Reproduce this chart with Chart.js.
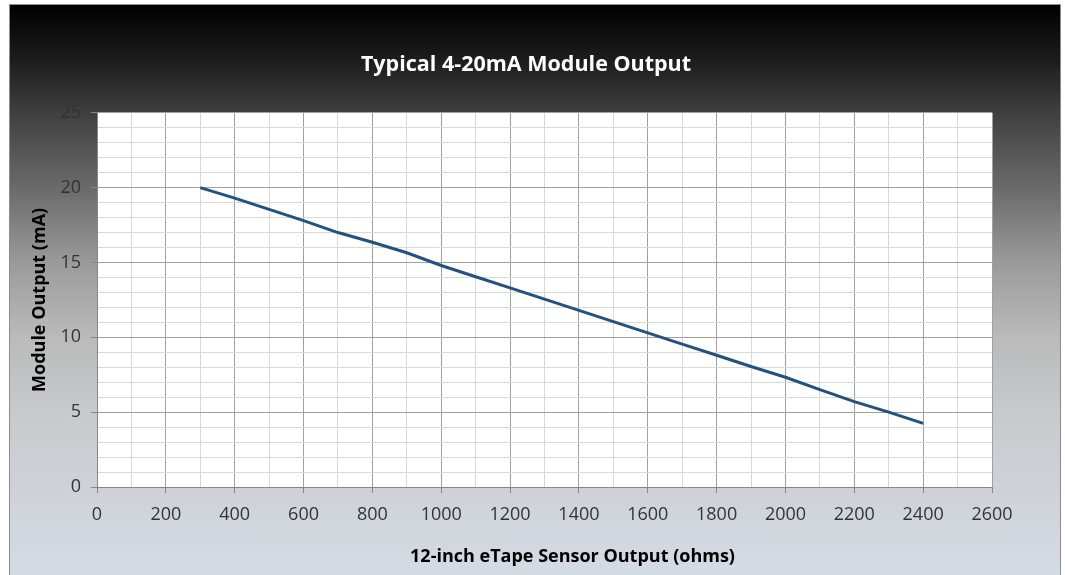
<!DOCTYPE html>
<html lang="en">

<head>
    <meta charset="UTF-8">
    <title>Typical 4-20mA Module Output</title>
    <style>
        body {
            margin: 0;
            background: #ffffff;
        }

        /* chart frame with the dark-to-light gradient */
        #frame {
            position: absolute;
            left: 9px;
            top: 4px;
            width: 1050px;
            height: 571px;
            border: 1px solid #8c8c8c;
            border-bottom: none;
            background: linear-gradient(to bottom,
                    #000000 0%,
                    #1e1e1e 10%,
                    #404040 19%,
                    #6a6a6a 32%,
                    #9a9a9a 45%,
                    #bababa 58%,
                    #c8cacd 72%,
                    #d5dbe4 100%);
        }
    </style>
</head>

<body>

    <div id="frame">
        <canvas id="myChart" width="1050" height="571"></canvas>
    </div>

    <script src="https://cdn.jsdelivr.net/npm/chart.js"></script>

    <script>
        // Sensor resistance (ohms) and module output (mA)
        const sensorOhms = [300, 400, 500, 600, 700, 800, 900, 1000, 1100, 1200, 1300,
            1400, 1500, 1600, 1700, 1800, 1900, 2000, 2100, 2200, 2300, 2400];
        const moduleMa = [20.0, 19.3, 18.55, 17.8, 17.0, 16.35, 15.65, 14.8, 14.05, 13.3, 12.55,
            11.8, 11.05, 10.3, 9.55, 8.8, 8.05, 7.33, 6.5, 5.7, 5.0, 4.25];

        // Axis ranges and tick steps
        const xRange = [0, 2600];
        const xMajor = 200;
        const xMinor = 100;
        const yRange = [0, 25];
        const yMajor = 5;
        const yMinor = 1;

        const chartTitle = 'Typical 4-20mA Module Output';
        const xTitle = '12-inch eTape Sensor Output (ohms)';
        const yTitle = 'Module Output (mA)';

        const FONT = "'Open Sans', 'DejaVu Sans', sans-serif";

        // white plot area behind the grid
        const plotBackground = {
            id: 'plotBackground',
            beforeDraw(chart) {
                const { ctx, chartArea } = chart;
                ctx.save();
                ctx.fillStyle = '#ffffff';
                ctx.fillRect(chartArea.left, chartArea.top,
                    chartArea.right - chartArea.left, chartArea.bottom - chartArea.top);
                ctx.restore();
            }
        };

        // x axis title sits a little right of the plot centre in the original
        const xAxisTitle = {
            id: 'xAxisTitle',
            afterDraw(chart) {
                const { ctx, chartArea } = chart;
                const xScale = chart.scales.x;
                ctx.save();
                ctx.fillStyle = '#000000';
                ctx.font = "bold 18px " + FONT;
                ctx.textAlign = 'center';
                ctx.textBaseline = 'middle';
                ctx.fillText(xTitle, (chartArea.left + chartArea.right) / 2 + 28, xScale.bottom - 19);
                ctx.restore();
            }
        };

        function isMajor(value, step) {
            return Math.abs(value / step - Math.round(value / step)) < 1e-6;
        }

        const ctx = document.getElementById('myChart').getContext('2d');
        const myChart = new Chart(ctx, {
            type: 'line',
            data: {
                datasets: [{
                    label: 'Module Output',
                    data: sensorOhms.map((x, i) => ({ x: x, y: moduleMa[i] })),
                    borderColor: '#23527f',
                    borderWidth: 3,
                    pointRadius: 0,
                    tension: 0,
                    fill: false
                }]
            },
            options: {
                responsive: false,
                animation: false,
                layout: {
                    padding: { left: 0, right: 18, top: 0, bottom: 0 }
                },
                plugins: {
                    legend: { display: false },
                    tooltip: { enabled: false },
                    title: {
                        display: true,
                        text: chartTitle,
                        color: '#ffffff',
                        font: { family: FONT, size: 21.5, weight: 'bold' },
                        padding: { top: 47, bottom: 35 }
                    }
                },
                scales: {
                    x: {
                        type: 'linear',
                        min: xRange[0],
                        max: xRange[1],
                        afterFit(scale) { scale.height = 89; },
                        ticks: {
                            stepSize: xMinor,
                            autoSkip: false,
                            maxRotation: 0,
                            padding: 11,
                            color: '#333333',
                            font: { family: FONT, size: 18 },
                            callback: v => isMajor(v, xMajor) ? String(v) : ''
                        },
                        grid: {
                            color: c => isMajor(c.tick.value, xMajor) ? '#a0a0a0' : '#d9d9d9',
                            tickColor: c => isMajor(c.tick.value, xMajor) ? '#868686' : 'rgba(0,0,0,0)',
                            tickLength: 6,
                            lineWidth: 1
                        },
                        border: { color: '#868686', width: 1 },
                        title: { display: false }
                    },
                    y: {
                        min: yRange[0],
                        max: yRange[1],
                        afterFit(scale) { scale.width = 87; },
                        ticks: {
                            stepSize: yMinor,
                            maxTicksLimit: 100,
                            autoSkip: false,
                            padding: 10,
                            color: '#333333',
                            font: { family: FONT, size: 18 },
                            callback: v => isMajor(v, yMajor) ? String(v) : ''
                        },
                        grid: {
                            color: c => isMajor(c.tick.value, yMajor) ? '#a0a0a0' : '#d9d9d9',
                            tickColor: c => isMajor(c.tick.value, yMajor) ? '#868686' : 'rgba(0,0,0,0)',
                            tickLength: 6,
                            lineWidth: 1
                        },
                        border: { color: '#868686', width: 1 },
                        title: {
                            display: true,
                            text: yTitle,
                            color: '#000000',
                            font: { family: FONT, size: 18, weight: 'bold' },
                            padding: { top: 19, bottom: 0 }
                        }
                    },
                    // empty right-hand margin so the title centres like the original
                    spacer: {
                        type: 'linear',
                        position: 'right',
                        display: true,
                        afterFit(scale) { scale.width = 50; },
                        ticks: { display: false },
                        grid: { drawOnChartArea: false, drawTicks: false },
                        border: { display: false }
                    }
                }
            },
            plugins: [plotBackground, xAxisTitle]
        });
    </script>

</body>

</html>
